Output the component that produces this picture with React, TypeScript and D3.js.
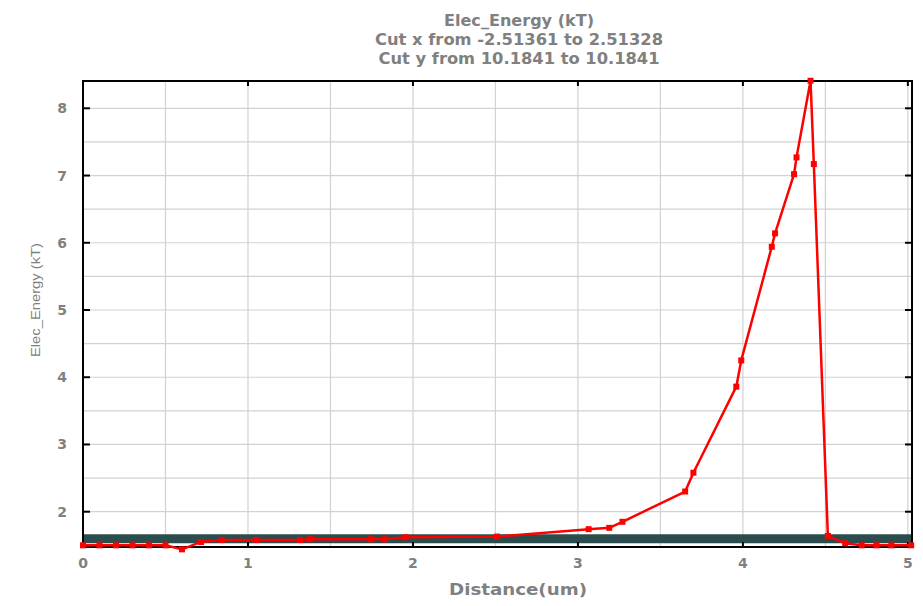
import React, { useEffect, useRef } from 'react';
import * as d3 from 'd3';

// red cut-line series (distance in um, energy in kT)
const distance = [
  0, 0.1, 0.2, 0.3, 0.4, 0.5, 0.6, 0.715, 0.84, 1.05, 1.315, 1.375, 1.745, 1.83, 1.955,
  2.51, 3.065, 3.19, 3.27, 3.65, 3.7, 3.96, 3.99, 4.175, 4.195, 4.31, 4.325, 4.41, 4.43,
  4.515, 4.62, 4.72, 4.81, 4.9, 5.02,
];
const energy = [
  1.5, 1.5, 1.5, 1.5, 1.5, 1.5, 1.44, 1.55, 1.58, 1.58, 1.58, 1.59, 1.59, 1.59, 1.62,
  1.63, 1.74, 1.76, 1.85, 2.3, 2.58, 3.86, 4.25, 5.94, 6.14, 7.02, 7.27, 8.41, 7.17,
  1.64, 1.53, 1.5, 1.5, 1.5, 1.5,
];

// dark horizontal band
const bandX = [0, 5.025];
const bandLow = [1.53, 1.53];
const bandHigh = [1.665, 1.665];

const xTicks = [0, 1, 2, 3, 4, 5];
const yTicks = [2, 3, 4, 5, 6, 7, 8];
const titleLines = ['Elec_Energy (kT)', 'Cut x from -2.51361 to 2.51328', 'Cut y from 10.1841 to 10.1841'];
const titleWidths = [150, 288, 281];

const W = 923;
const H = 606;
const margin = { left: 83, right: 11, top: 81, bottom: 59 };

export default function App() {
  const svgRef = useRef<SVGSVGElement>(null);

  useEffect(() => {
    if (!svgRef.current) return;
    const svg = d3.select(svgRef.current);
    svg.selectAll('*').remove();

    const x = d3.scaleLinear().domain([0, 5.025]).range([margin.left, W - margin.right]);
    const y = d3.scaleLinear().domain([1.475, 8.406]).range([H - margin.bottom, margin.top]);
    const [x0, x1] = x.range();
    const [y0, y1] = y.range();

    svg.append('rect').attr('width', W).attr('height', H).attr('fill', '#fff');

    // grid every 0.5
    const g = svg.append('g').attr('stroke', '#d2d2d2').attr('stroke-width', 1.2);
    d3.range(0.5, 5.01, 0.5).forEach(v => {
      g.append('line').attr('x1', x(v)).attr('x2', x(v)).attr('y1', y1).attr('y2', y0);
    });
    d3.range(2, 8.01, 0.5).forEach(v => {
      g.append('line').attr('x1', x0).attr('x2', x1).attr('y1', y(v)).attr('y2', y(v));
    });

    // dark band
    const band = d3.area<number>()
      .x((_, i) => x(bandX[i]))
      .y0((_, i) => y(bandLow[i]))
      .y1((_, i) => y(bandHigh[i]));
    svg.append('path').datum(bandX).attr('d', band).attr('fill', '#2b4d4d');

    // frame
    svg.append('rect')
      .attr('x', x0).attr('y', y1).attr('width', x1 - x0).attr('height', y0 - y1)
      .attr('fill', 'none').attr('stroke', '#000').attr('stroke-width', 2);

    // inward ticks on all sides
    const t = svg.append('g').attr('stroke', '#000').attr('stroke-width', 2);
    xTicks.forEach(v => {
      t.append('line').attr('x1', x(v)).attr('x2', x(v)).attr('y1', y0).attr('y2', y0 - 5);
      t.append('line').attr('x1', x(v)).attr('x2', x(v)).attr('y1', y1).attr('y2', y1 + 5);
    });
    yTicks.forEach(v => {
      t.append('line').attr('x1', x0).attr('x2', x0 + 7).attr('y1', y(v)).attr('y2', y(v));
      t.append('line').attr('x1', x1).attr('x2', x1 - 7).attr('y1', y(v)).attr('y2', y(v));
    });

    const font = "'DejaVu Sans', Verdana, sans-serif";
    const gray = '#808080';

    svg.append('g').selectAll('text').data(xTicks).enter().append('text')
      .attr('x', d => x(d)).attr('y', y0 + 21)
      .attr('text-anchor', 'middle')
      .style('font-family', font).style('font-size', '14px').style('font-weight', 'bold')
      .attr('fill', gray).text(d => d);

    svg.append('g').selectAll('text').data(yTicks).enter().append('text')
      .attr('x', 67).attr('y', d => y(d) + 5)
      .attr('text-anchor', 'end')
      .style('font-family', font).style('font-size', '14px').style('font-weight', 'bold')
      .attr('fill', gray).text(d => d);

    svg.append('text')
      .attr('x', 518).attr('y', 595)
      .attr('text-anchor', 'middle')
      .attr('textLength', 138).attr('lengthAdjust', 'spacingAndGlyphs')
      .style('font-family', font).style('font-size', '15px').style('font-weight', 'bold')
      .attr('fill', gray).text('Distance(um)');

    svg.append('text')
      .attr('transform', 'translate(40,300) rotate(-90)')
      .attr('text-anchor', 'middle')
      .attr('textLength', 114).attr('lengthAdjust', 'spacingAndGlyphs')
      .style('font-family', "'Liberation Sans', Arial, sans-serif").style('font-size', '12px')
      .attr('fill', gray).text('Elec_Energy (kT)');

    titleLines.forEach((s, i) => {
      svg.append('text')
        .attr('x', 519).attr('y', 26 + i * 19)
        .attr('text-anchor', 'middle')
        .attr('textLength', titleWidths[i]).attr('lengthAdjust', 'spacingAndGlyphs')
        .style('font-family', font).style('font-size', '16px').style('font-weight', 'bold')
        .attr('fill', gray).text(s);
    });

    // red series
    const line = d3.line<number>().x(d => x(d)).y((_, i) => y(energy[i]));
    svg.append('path').datum(distance).attr('d', line)
      .attr('fill', 'none').attr('stroke', '#ff0000').attr('stroke-width', 2.5)
      .attr('stroke-linejoin', 'round');
    svg.append('g').selectAll('rect').data(distance).enter().append('rect')
      .attr('x', d => x(d) - 3).attr('y', (_, i) => y(energy[i]) - 3)
      .attr('width', 6).attr('height', 6).attr('fill', '#ff0000');
  }, []);

  return (
    <svg
      ref={svgRef}
      width={W}
      height={H}
      style={{ position: 'absolute', left: 0, top: 0, display: 'block' }}
    />
  );
}
